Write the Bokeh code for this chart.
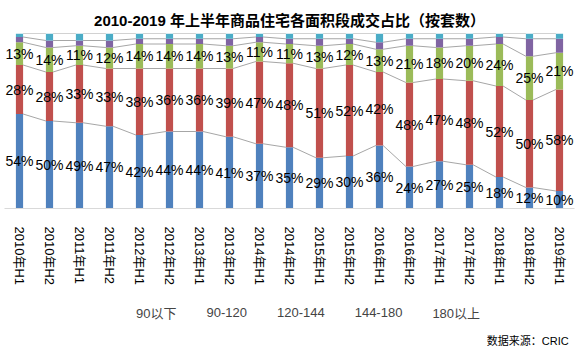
import numpy as np
from bokeh.plotting import figure
from bokeh.layouts import column
from bokeh.models import ColumnDataSource, Range1d, FixedTicker, Legend, LegendItem
from bokeh.core.properties import value
from bokeh.embed import file_html
from bokeh.resources import INLINE

categories = ["2010年H1", "2010年H2", "2011年H1", "2011年H2", "2012年H1", "2012年H2",
              "2013年H1", "2013年H2", "2014年H1", "2014年H2", "2015年H1", "2015年H2",
              "2016年H1", "2016年H2", "2017年H1", "2017年H2", "2018年H1", "2018年H2",
              "2019年H1"]
series_names = ["90以下", "90-120", "120-144", "144-180", "180以上"]
s_90 = [54, 50, 49, 47, 42, 44, 44, 41, 37, 35, 29, 30, 36, 24, 27, 25, 18, 12, 10]
s_90_120 = [28, 28, 33, 33, 38, 36, 36, 39, 47, 48, 51, 52, 42, 48, 47, 48, 52, 50, 58]
s_120_144 = [13, 14, 11, 12, 14, 14, 14, 13, 11, 11, 13, 12, 13, 21, 18, 20, 24, 25, 21]
s_144_180 = [3, 4, 3, 4, 3, 3, 3, 4, 3, 3, 4, 3, 4, 4, 5, 4, 4, 10, 8]
s_180 = [2, 4, 4, 4, 3, 3, 3, 3, 2, 3, 3, 3, 5, 3, 3, 3, 2, 3, 3]
colors = ["#4F81BD", "#C0504D", "#9BBB59", "#8064A2", "#4BACC6"]
source_note = "数据来源：CRIC"

FONT = "Liberation Sans, 'Noto Sans CJK SC', sans-serif"

series = [s_90, s_90_120, s_120_144, s_144_180, s_180]
arr = np.array(series, dtype=float)
arr = arr / arr.sum(axis=0)
xs = np.arange(len(categories))
keys = ["a", "b", "c", "d", "e"]
data = {"x": xs}
for k, row in zip(keys, arr):
    data[k] = row
src = ColumnDataSource(data)

p = figure(width=583, height=288,
           output_backend="svg", toolbar_location=None,
           x_range=Range1d(-0.5, len(categories) - 0.5), y_range=Range1d(0, 1),
           min_border_left=4, min_border_right=9, min_border_top=33, min_border_bottom=0)
p.outline_line_color = None
p.grid.visible = False
p.yaxis.visible = False

W = 0.24
cum = np.cumsum(arr, axis=0)
x0s, y0s, x1s, y1s = [], [], [], []
for lvl in range(cum.shape[0]):
    for i in range(len(categories) - 1):
        x0s.append(xs[i] + W / 2); y0s.append(cum[lvl, i])
        x1s.append(xs[i + 1] - W / 2); y1s.append(cum[lvl, i + 1])
p.segment(x0s, y0s, x1s, y1s, line_color="#A6A6A6", line_width=1)

rs = p.vbar_stack(keys, x="x", width=W, color=colors, source=src, line_color=None)

lx, ly, lt = [], [], []
bottoms = np.vstack([np.zeros(len(categories)), cum[:-1]])
for s in range(3):
    for i in range(len(categories)):
        lx.append(xs[i]); ly.append(bottoms[s, i] + arr[s, i] / 2)
        lt.append(f"{series[s][i]}%")
p.text(lx, ly, text=lt, text_align="center", text_baseline="middle",
       text_font=value(FONT), text_font_size="14px", text_color="#000000")

p.xaxis.ticker = FixedTicker(ticks=list(xs))
p.xaxis.major_label_overrides = {int(i): c for i, c in zip(xs, categories)}
p.xaxis.major_label_orientation = -np.pi / 2
p.xaxis.major_label_text_font = FONT
p.xaxis.major_label_text_font_size = "13px"
p.xaxis.major_label_text_color = "#000000"
p.xaxis.major_tick_line_color = None
p.xaxis.minor_tick_line_color = None
p.xaxis.axis_line_color = "#D9D9D9"
p.xaxis.major_label_standoff = 18
p.xaxis.major_tick_out = 0
p.xaxis.major_tick_in = 0

p.title.text = "2010-2019 年上半年商品住宅各面积段成交占比（按套数）"
p.title.align = "center"
p.title.text_font = FONT
p.title.text_font_size = "15px"
p.title.text_font_style = "bold"
p.title.text_color = "#000000"

# legend / source strip
p2 = figure(width=583, height=65, output_backend="svg", toolbar_location=None,
            x_range=Range1d(0, 583), y_range=Range1d(0, 65),
            x_axis_location=None, y_axis_location=None, min_border=0)
p2.outline_line_color = None
p2.grid.visible = False
swatches = [p2.vbar(x=[], top=[], width=1, color=c, line_color=None) for c in colors]
legend = Legend(items=[LegendItem(label=n, renderers=[r]) for n, r in zip(series_names, swatches)],
                orientation="horizontal", location=(122, 31), border_line_color=None,
                label_text_font=FONT, label_text_font_size="13px",
                glyph_width=7, glyph_height=7, spacing=20, label_standoff=3,
                padding=0, margin=0, background_fill_alpha=0, label_height=14)
p2.add_layout(legend, "center")
p2.text(x=[577], y=[13], text=[source_note], text_align="right", text_baseline="middle",
        text_font=value(FONT), text_font_size="11px", text_color="#000000")

layout = column(p, p2, spacing=0)
open("out.html", "w").write(file_html(layout, INLINE))
